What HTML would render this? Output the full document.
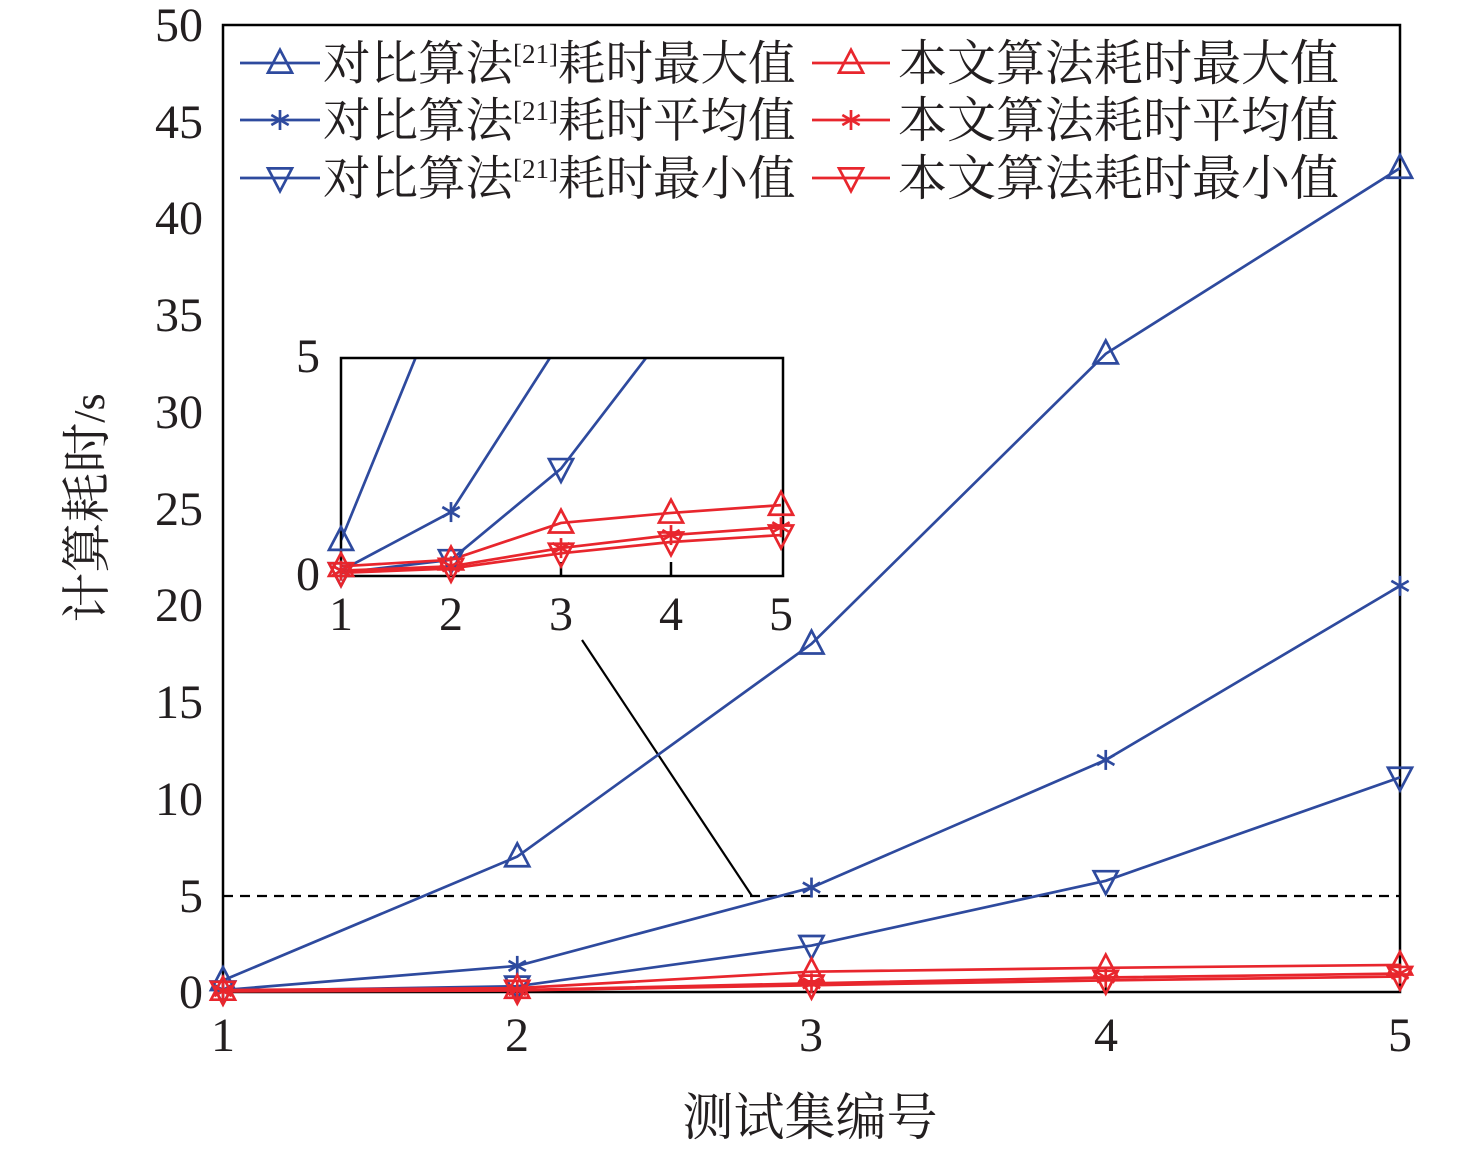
<!DOCTYPE html>
<html><head><meta charset="utf-8"><style>
html,body{margin:0;padding:0;background:#fff}
svg text{font-family:"Liberation Serif","Noto Serif CJK SC",serif;fill:#231f20}
</style></head><body>
<svg id="s" width="1476" height="1149" viewBox="0 0 1476 1149" xmlns="http://www.w3.org/2000/svg">
<defs><clipPath id="ic"><rect x="341" y="358" width="442" height="218"/></clipPath></defs>
<rect x="223" y="25" width="1177" height="967" fill="none" stroke="#000" stroke-width="2.5"/>
<g id="g"></g>
<g font-size="48" text-anchor="end">
<text x="203" y="1008">0</text><text x="203" y="912">5</text><text x="203" y="815">10</text><text x="203" y="718">15</text><text x="203" y="621">20</text><text x="203" y="525">25</text><text x="203" y="428">30</text><text x="203" y="331">35</text><text x="203" y="234">40</text><text x="203" y="138">45</text><text x="203" y="41">50</text>
</g>
<g font-size="48" text-anchor="middle">
<text x="223" y="1051">1</text><text x="517" y="1051">2</text><text x="811" y="1051">3</text><text x="1106" y="1051">4</text><text x="1400" y="1051">5</text>
<text x="341" y="630">1</text><text x="451" y="630">2</text><text x="561" y="630">3</text><text x="671" y="630">4</text><text x="781" y="630">5</text>
</g>
<g font-size="48" text-anchor="end"><text x="320" y="590">0</text><text x="320" y="372">5</text></g>
<text x="810" y="1135" font-size="51" text-anchor="middle">测试集编号</text>
<text transform="translate(104,508) rotate(-90)" font-size="50" text-anchor="middle">计算耗时<tspan font-size="44">/s</tspan></text>
<g font-size="47.5">
<text x="323" y="80">对比算法<tspan font-size="27" dy="-17">[21]</tspan><tspan dy="17">耗时最大值</tspan></text>
<text x="323" y="137">对比算法<tspan font-size="27" dy="-17">[21]</tspan><tspan dy="17">耗时平均值</tspan></text>
<text x="323" y="195">对比算法<tspan font-size="27" dy="-17">[21]</tspan><tspan dy="17">耗时最小值</tspan></text>
<text x="898" y="80" font-size="49">本文算法耗时最大值</text>
<text x="898" y="137" font-size="49">本文算法耗时平均值</text>
<text x="898" y="195" font-size="49">本文算法耗时最小值</text>
</g>
</svg>
<script>
const g=document.getElementById('g');const NS='http://www.w3.org/2000/svg';
function el(t,a,p){const e=document.createElementNS(NS,t);for(const k in a)e.setAttribute(k,a[k]);(p||g).appendChild(e);return e;}
const B='#2e4a9e',R='#e8262d';
function marker(type,x,y,c,p){const s=12;
 if(type=='up')el('polygon',{points:`${x-s},${y+s*0.8} ${x+s},${y+s*0.8} ${x},${y-s*1.1}`,fill:'none',stroke:c,'stroke-width':2.7},p);
 else if(type=='down')el('polygon',{points:`${x-s},${y-s*0.8} ${x+s},${y-s*0.8} ${x},${y+s*1.1}`,fill:'none',stroke:c,'stroke-width':2.7},p);
 else{const r=10;for(const a of [90,30,150]){const t=a*Math.PI/180;el('line',{x1:x-r*Math.cos(t),y1:y-r*Math.sin(t),x2:x+r*Math.cos(t),y2:y+r*Math.sin(t),stroke:c,'stroke-width':2.7},p);}}
}
const series=[
 [B,'up',[0.8,7,18,33,42.6]],[B,'star',[0.1,1.45,5.4,12,21]],[B,'down',[0.05,0.35,2.45,5.75,11.1]],
 [R,'up',[0.2,0.35,1.2,1.43,1.61]],[R,'star',[0.1,0.2,0.62,0.92,1.1]],[R,'down',[0.05,0.15,0.5,0.76,0.92]]];
el('line',{x1:223,y1:896,x2:1400,y2:896,stroke:'#000','stroke-width':2.2,'stroke-dasharray':'10,7'});
el('line',{x1:752,y1:896,x2:582,y2:640,stroke:'#000','stroke-width':2.2});
for(let i=1;i<=3;i++){const x=223+i*294.25;el('line',{x1:x,y1:992,x2:x,y2:980,stroke:'#000','stroke-width':2});}
const mx=i=>223+i*294.25,my=v=>992-v*19.34;
const ms=[[B,[0.6,7,18,33,42.6]],[B,[0.1,1.35,5.4,12,21]],[B,[0.05,0.3,2.4,5.75,11.1]],[R,[0.1,0.2,1.05,1.25,1.4]],[R,[0.05,0.1,0.45,0.75,0.95]],[R,[0.03,0.08,0.35,0.6,0.8]]];
series.forEach(([c,t,d],k)=>{const dd=ms[k][1];el('polyline',{points:dd.map((v,i)=>mx(i)+','+my(v)).join(' '),fill:'none',stroke:c,'stroke-width':2.7});dd.forEach((v,i)=>marker(t,mx(i),my(v),c));});
el('rect',{x:341,y:358,width:442,height:218,fill:'#fff',stroke:'none'});
const ix=i=>341+i*110,iy=v=>575-v*43.4;
const ci=el('g',{'clip-path':'url(#ic)'});
for(const [c,t,d] of series){el('polyline',{points:d.map((v,i)=>ix(i)+','+iy(v)).join(' '),fill:'none',stroke:c,'stroke-width':2.7},ci);}
for(let i=1;i<=3;i++)el('line',{x1:ix(i),y1:575,x2:ix(i),y2:562,stroke:'#000','stroke-width':2.5});
el('rect',{x:341,y:358,width:442,height:218,fill:'none',stroke:'#000','stroke-width':2.5});
for(const [c,t,d] of series){d.forEach((v,i)=>{if(v<=5)marker(t,ix(i),iy(v),c);});}
[[B,'up',63],[B,'star',120],[B,'down',178]].forEach(([c,t,y])=>{el('line',{x1:240,y1:y,x2:320,y2:y,stroke:c,'stroke-width':2.7});marker(t,280,y,c);});
[[R,'up',63],[R,'star',120],[R,'down',178]].forEach(([c,t,y])=>{el('line',{x1:812,y1:y,x2:890,y2:y,stroke:c,'stroke-width':2.7});marker(t,851,y,c);});
</script>
</body></html>
